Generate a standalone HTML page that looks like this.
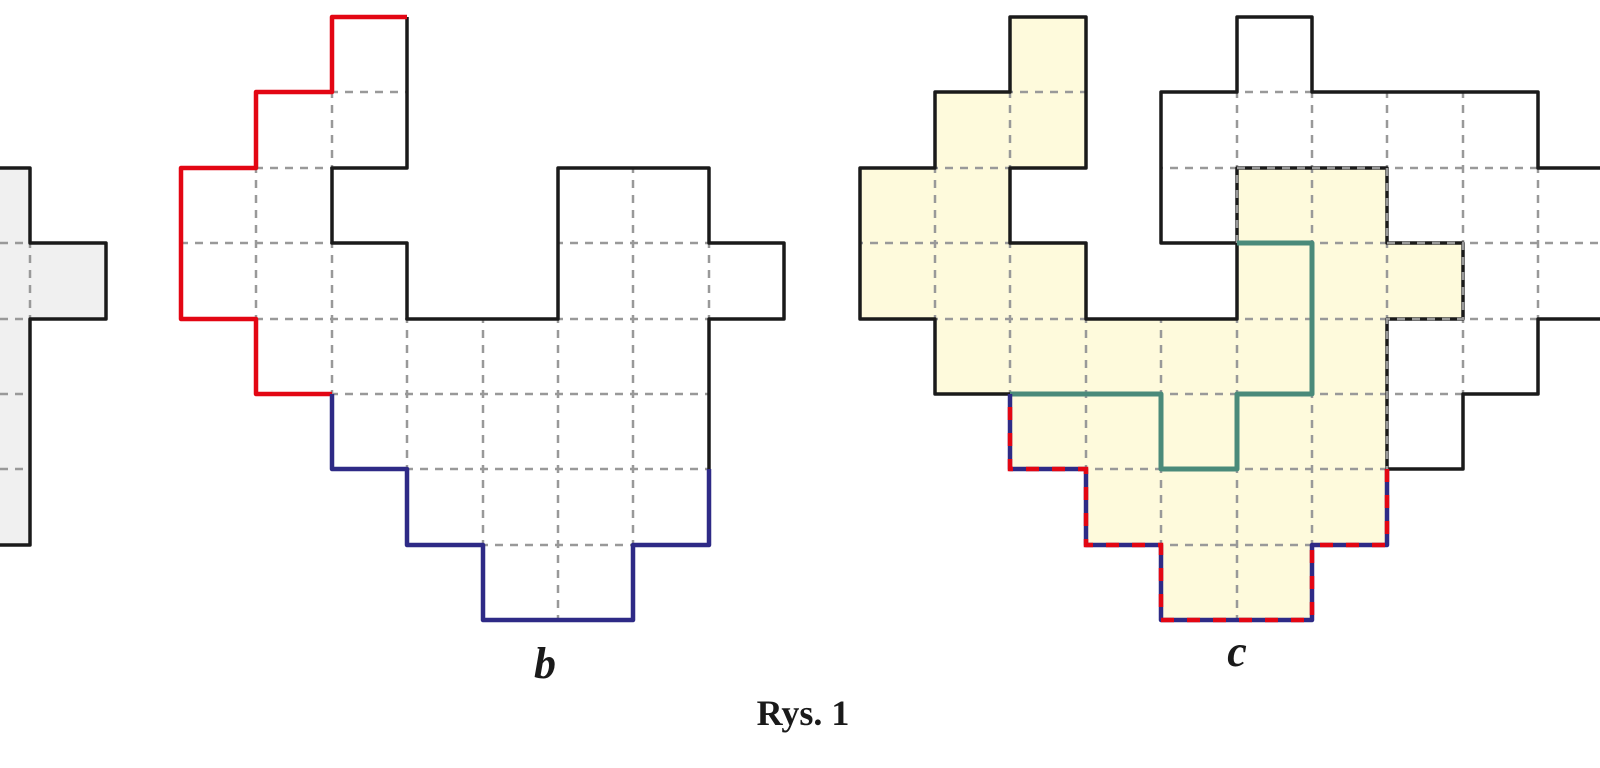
<!DOCTYPE html>
<html><head><meta charset="utf-8"><style>html,body{margin:0;padding:0;background:#fff}svg{display:block}</style></head>
<body>
<svg width="1600" height="768" viewBox="0 0 1600 768" xmlns="http://www.w3.org/2000/svg">
<defs>
<clipPath id="ca"><polygon points="-45,168 30,168 30,243 106,243 106,319 30,319 30,545 -45,545"/></clipPath>
<clipPath id="cb"><polygon points="332,17 407,17 407,168 332,168 332,243 407,243 407,319 558,319 558,168 709,168 709,243 784,243 784,319 709,319 709,545 633,545 633,620 483,620 483,545 407,545 407,469 332,469 332,394 256,394 256,319 181,319 181,168 256,168 256,92 332,92"/></clipPath>
<clipPath id="cc"><polygon points="1010,17 1086,17 1086,168 1010,168 1010,243 1086,243 1086,319 1237,319 1237,243 1161,243 1161,92 1237,92 1237,17 1312,17 1312,92 1538,92 1538,168 1614,168 1614,319 1538,319 1538,394 1463,394 1463,469 1387,469 1387,545 1312,545 1312,620 1161,620 1161,545 1086,545 1086,469 1010,469 1010,394 935,394 935,319 860,319 860,168 935,168 935,92 1010,92"/></clipPath>
<g id="grid" stroke="#999" stroke-width="2.5" stroke-dasharray="8 7" fill="none">
<path d="M30,0V768M106,0V768M181,0V768M256,0V768M332,0V768M407,0V768M483,0V768M558,0V768M633,0V768M709,0V768M784,0V768M860,0V768M935,0V768M1010,0V768M1086,0V768M1161,0V768M1237,0V768M1312,0V768M1387,0V768M1463,0V768M1538,0V768M0,92H1600M0,168H1600M0,243H1600M0,319H1600M0,394H1600M0,469H1600M0,545H1600"/>
</g>
</defs>

<!-- a -->
<polygon points="-45,168 30,168 30,243 106,243 106,319 30,319 30,545 -45,545" fill="#f0f0f0"/>
<use href="#grid" clip-path="url(#ca)"/>
<polyline points="-45,168 30,168 30,243 106,243 106,319 30,319 30,545 -45,545" fill="none" stroke="#1a1a1a" stroke-width="3.5" stroke-linejoin="round"/>

<!-- b -->
<use href="#grid" clip-path="url(#cb)"/>
<polyline points="407,17 407,168 332,168 332,243 407,243 407,319 558,319 558,168 709,168 709,243 784,243 784,319 709,319 709,469" fill="none" stroke="#1a1a1a" stroke-width="3.5" stroke-linejoin="round"/>
<polyline points="407,17 332,17 332,92 256,92 256,168 181,168 181,319 256,319 256,394 332,394" fill="none" stroke="#e30613" stroke-width="4.5" stroke-linejoin="round"/>
<polyline points="332,394 332,469 407,469 407,545 483,545 483,620 633,620 633,545 709,545 709,469" fill="none" stroke="#2e2a86" stroke-width="4.5" stroke-linejoin="round"/>

<!-- c -->
<polygon points="1010,17 1086,17 1086,168 1010,168 1010,243 1086,243 1086,319 1237,319 1237,168 1387,168 1387,243 1463,243 1463,319 1387,319 1387,545 1312,545 1312,620 1161,620 1161,545 1086,545 1086,469 1010,469 1010,394 935,394 935,319 860,319 860,168 935,168 935,92 1010,92" fill="#fefadc"/>
<use href="#grid" clip-path="url(#cc)"/>
<polyline points="1010,394 935,394 935,319 860,319 860,168 935,168 935,92 1010,92 1010,17 1086,17 1086,168 1010,168 1010,243 1086,243 1086,319 1237,319 1237,243 1161,243 1161,92 1237,92 1237,17 1312,17 1312,92 1538,92 1538,168 1614,168 1614,319 1538,319 1538,394 1463,394 1463,469 1387,469" fill="none" stroke="#1a1a1a" stroke-width="3.5" stroke-linejoin="round"/>
<polyline points="1237,243 1237,168 1387,168 1387,243 1463,243 1463,319 1387,319 1387,469" fill="none" stroke="#1a1a1a" stroke-width="3.5" stroke-linejoin="round"/>
<polyline points="1237,243 1237,168 1387,168 1387,243 1463,243 1463,319 1387,319 1387,469" fill="none" stroke="#999" stroke-width="2.5" stroke-dasharray="8 7"/>
<polyline points="1237,243 1312,243 1312,394 1237,394 1237,469 1161,469 1161,394 1010,394" fill="none" stroke="#4a8a7a" stroke-width="5" stroke-linejoin="round"/>
<polyline points="1010,394 1010,469 1086,469 1086,545 1161,545 1161,620 1312,620 1312,545 1387,545 1387,469" fill="none" stroke="#2e2a86" stroke-width="4.5" stroke-linejoin="round"/>
<polyline points="1010,394 1010,469 1086,469 1086,545 1161,545 1161,620 1312,620 1312,545 1387,545 1387,469" fill="none" stroke="#e30613" stroke-width="4.5" stroke-dasharray="13 13" stroke-dashoffset="-13"/>

<text x="545" y="678" font-family="Liberation Serif, serif" font-size="44" font-weight="bold" font-style="italic" text-anchor="middle" fill="#1a1a1a">b</text>
<text x="1237" y="666" font-family="Liberation Serif, serif" font-size="44" font-weight="bold" font-style="italic" text-anchor="middle" fill="#1a1a1a">c</text>
<text x="803" y="725" font-family="Liberation Serif, serif" font-size="36" font-weight="bold" text-anchor="middle" fill="#1a1a1a">Rys. 1</text>
</svg>
</body></html>
